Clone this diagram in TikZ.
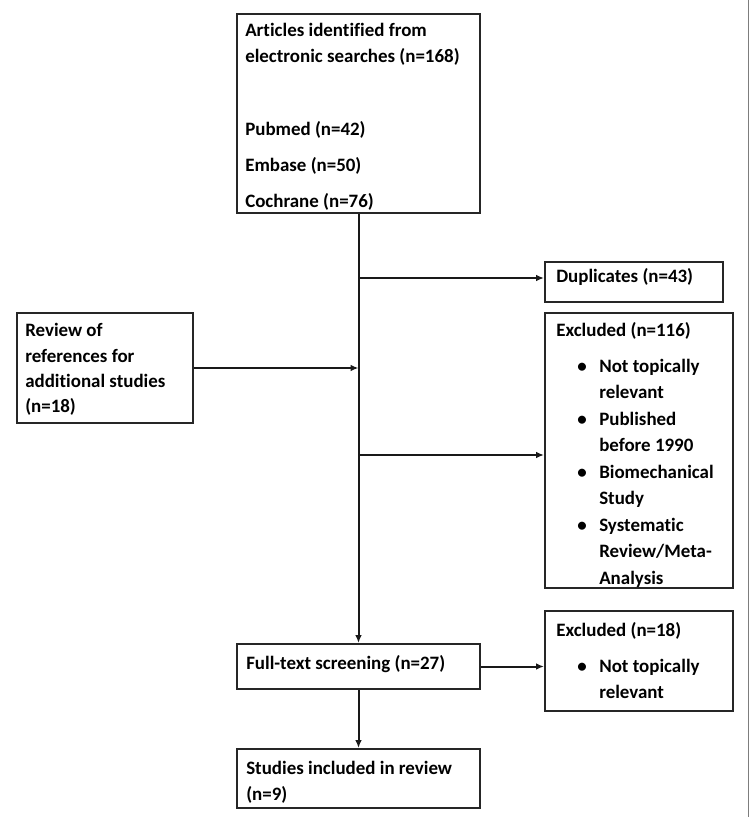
\documentclass[tikz,border=0pt]{standalone}
\usepackage{fontspec}
\setmainfont{Carlito}[Ligatures=NoCommon]
\usetikzlibrary{arrows.meta,fit}
\definecolor{edgegray}{RGB}{125,125,125}
\begin{document}
\begin{tikzpicture}[x=0.75pt,y=-0.75pt,
  box/.style={draw=black!85, line width=1.5pt, inner sep=0pt},
  txt/.style={anchor=base west, inner sep=0pt, font=\fontsize{14.2}{17}\selectfont\bfseries},
  bul/.style={anchor=base west, inner sep=0pt, font=\fontsize{14.2}{17}\selectfont\bfseries},
  conn/.style={line width=1.5pt, draw=black!90, -{Latex[length=6pt,width=5pt]}},
]
\useasboundingbox (0,0) rectangle (750,817);
\draw[edgegray, line width=1.3pt] (748.5,0) -- (748.5,817);

% boxes
\node[box, fit={(237,14) (480,213)}] (top) {};
\node[box, fit={(17,313) (193,423)}] (rev) {};
\node[box, fit={(545,262) (723,302)}] (dup) {};
\node[box, fit={(545,313) (733,588)}] (exa) {};
\node[box, fit={(237,644) (480,689)}] (full) {};
\node[box, fit={(545,611) (733,711)}] (exb) {};
\node[box, fit={(237,749) (480,808)}] (stud) {};

% texts
\node[txt] (t1) at (245,37) {Articles identified from};
\node[txt] (t2) at (245,63) {electronic searches (n=168)};
\node[txt] (t3) at (245,135) {Pubmed (n=42)};
\node[txt] (t4) at (245,171) {Embase (n=50)};
\node[txt] (t5) at (245,207) {Cochrane (n=76)};

\node[txt] (r1) at (25,336) {Review of};
\node[txt] (r2) at (25,362) {references for};
\node[txt] (r3) at (25,387) {additional studies};
\node[txt] (r4) at (25,412) {(n=18)};

\node[txt] (d1) at (556,282) {Duplicates (n=43)};

\node[txt] (e0) at (556,336) {Excluded (n=116)};
\node[bul] (b1) at (577,372) {\textbullet};
\node[txt] (e1) at (599,372) {Not topically};
\node[txt] (e2) at (599,398.5) {relevant};
\node[bul] (b2) at (577,425) {\textbullet};
\node[txt] (e3) at (599,425) {Published};
\node[txt] (e4) at (599,451.5) {before 1990};
\node[bul] (b3) at (577,478) {\textbullet};
\node[txt] (e5) at (599,478) {Biomechanical};
\node[txt] (e6) at (599,504.5) {Study};
\node[bul] (b4) at (577,531) {\textbullet};
\node[txt] (e7) at (599,531) {Systematic};
\node[txt] (e8) at (599,557.5) {Review/Meta-};
\node[txt] (e9) at (599,584) {Analysis};

\node[txt] (f1) at (246,669) {Full-text screening (n=27)};

\node[txt] (x0) at (556,636) {Excluded (n=18)};
\node[bul] (b5) at (577,672) {\textbullet};
\node[txt] (x1) at (599,672) {Not topically};
\node[txt] (x2) at (599,698) {relevant};

\node[txt] (s1) at (246,774) {Studies included in review};
\node[txt] (s2) at (246,800) {(n=9)};

% connectors
\coordinate (j1) at (358.5,278);
\coordinate (j2) at (358.5,455);
\draw[conn] (top.south) -- (full.north);
\draw[conn] (j1) -- (j1 -| dup.west);
\draw[conn] (j2) -- (j2 -| exa.west);
\draw[conn] (rev.east) -- (rev.east -| top.south);
\draw[conn] (full.east) -- (full.east -| exb.west);
\draw[conn] (full.south) -- (stud.north);
\end{tikzpicture}
\end{document}
